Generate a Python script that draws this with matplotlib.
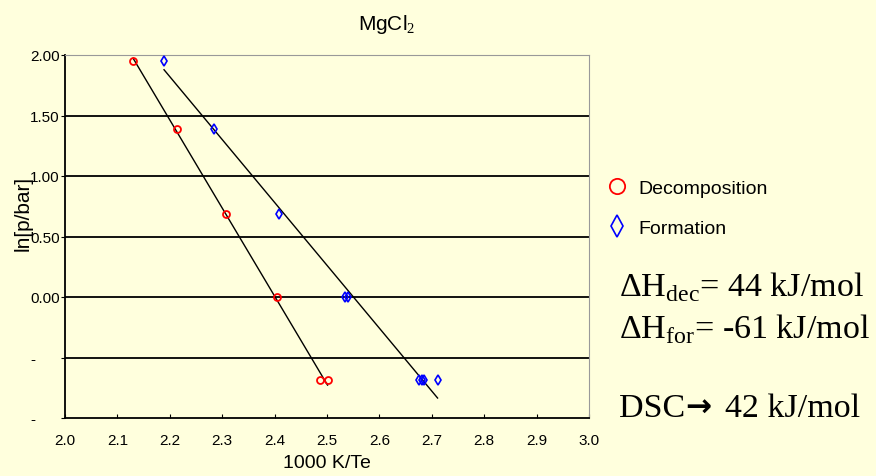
import numpy as np
import matplotlib
matplotlib.use("Agg")
import matplotlib.pyplot as plt

plt.rcParams["font.family"] = ["Liberation Sans", "DejaVu Sans"]
plt.rcParams["mathtext.fontset"] = "custom"
plt.rcParams["mathtext.rm"] = "Liberation Sans"

# data (1000 K/Te vs ln p)
dec_x = [2.130, 2.213, 2.307, 2.404, 2.487, 2.501]
dec_y = [1.95, 1.39, 0.69, 0.00, -0.69, -0.69]
for_x = [2.189, 2.284, 2.408, 2.535, 2.540, 2.675, 2.681, 2.686, 2.711]
for_y = [1.95, 1.39, 0.69, 0.00, 0.00, -0.69, -0.69, -0.69, -0.69]

y_ticks = [2.0, 1.5, 1.0, 0.5, 0.0, -0.5, -1.0]
y_labels = ["2.00", "1.50", "1.00", "0.50", "0.00", "-", "-"]
x_ticks = [2.0, 2.1, 2.2, 2.3, 2.4, 2.5, 2.6, 2.7, 2.8, 2.9, 3.0]

bg = "#ffffdd"
fig = plt.figure(figsize=(8.76, 4.77), dpi=100, facecolor=bg)
ax = fig.add_axes([65 / 876, 1 - 419 / 477, 524 / 876, 363 / 477], facecolor=bg)

# horizontal grid lines
for yv in y_ticks[1:-1]:
    ax.axhline(yv, color="black", lw=1.3, zorder=1)

# linear fits
for xs, ys in [(dec_x, dec_y), (for_x, for_y)]:
    k, b = np.polyfit(xs, ys, 1)
    xx = np.array([min(xs), max(xs)])
    ax.plot(xx, k * xx + b, color="black", lw=1, zorder=2)

ax.plot(dec_x, dec_y, "o", ms=5, mfc="none", mec="red", mew=1.3, zorder=3,
        label="Decomposition")
ax.plot(for_x, for_y, "d", ms=5, mfc="none", mec="blue", mew=1.2, zorder=3,
        label="Formation")

ax.set_xlim(2.0, 3.0)
ax.set_ylim(-1.0, 2.0)
ax.set_xticks(x_ticks)
ax.set_xticklabels(["%.1f" % v for v in x_ticks], fontsize=11)
ax.set_yticks(y_ticks)
ax.set_yticklabels(y_labels, fontsize=11, ha="left")
ax.tick_params(axis="y", direction="out", length=3, pad=22)
ax.tick_params(axis="x", direction="in", length=3, pad=11)

ax.spines["left"].set_color("black")
ax.spines["bottom"].set_color("black")
ax.spines["left"].set_linewidth(1.3)
ax.spines["bottom"].set_linewidth(1.3)
ax.spines["top"].set_color("#999999")
ax.spines["right"].set_color("#999999")

ax.set_xlabel("1000 K/Te", fontsize=14, labelpad=5)
ax.set_ylabel("ln[p/bar]", fontsize=15)
ax.yaxis.set_label_coords(-0.062, 0.565)
fig.text(387 / 876, 1 - 25 / 477, "MgCl$_2$", fontsize=15, ha="center", va="center")

fig.legend(loc="center left", bbox_to_anchor=(588 / 876, 1 - 209 / 477),
           frameon=False, markerscale=2.2, fontsize=14, handletextpad=0.5,
           labelspacing=1.15, handlelength=1.2)

serif = ["Liberation Serif", "DejaVu Serif"]
plt.rcParams["mathtext.rm"] = "Liberation Serif"
fs = 24.5
fig.text(619 / 876, 1 - 296 / 477, "ΔH$_{\\rm dec}$= 44 kJ/mol", fontsize=fs,
         family=serif, va="baseline")
fig.text(619 / 876, 1 - 338 / 477, "ΔH$_{\\rm for}$= -61 kJ/mol", fontsize=fs,
         family=serif, va="baseline")

# DSC line: the arrow glyph from DejaVu, the rest in Times-like serif
rend = fig.canvas.get_renderer()
t1 = fig.text(619 / 876, 1 - 417 / 477, "DSC", fontsize=fs, family=serif,
              va="baseline")
x1 = t1.get_window_extent(rend).x1 / fig.bbox.width
t2 = fig.text(x1, 1 - 417 / 477, "→", fontsize=fs - 2, family="DejaVu Sans",
              fontweight="bold", va="baseline")
x2 = t2.get_window_extent(rend).x1 / fig.bbox.width
fig.text(x2 + 14 / 876, 1 - 417 / 477, "42 kJ/mol", fontsize=fs, family=serif,
         va="baseline")

fig.savefig("out.png", dpi=100, facecolor=bg)
